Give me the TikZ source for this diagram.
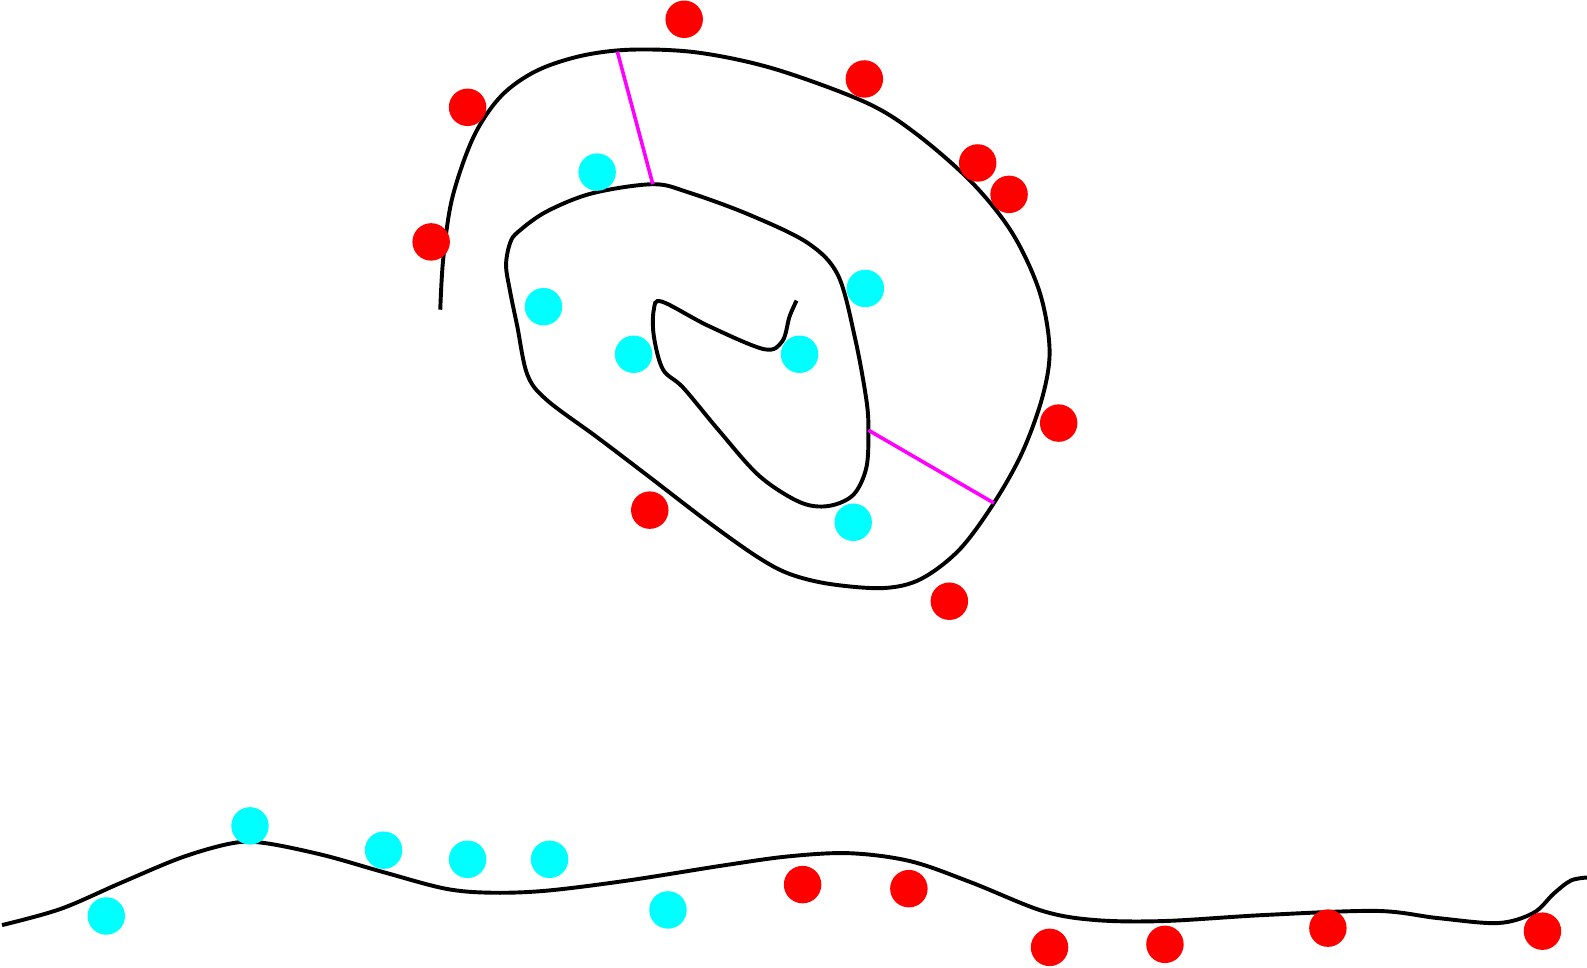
\documentclass[tikz,border=0pt]{standalone}
\usepackage{tikz}
\usetikzlibrary{calc}

\definecolor{ptred}{RGB}{255,0,0}
\definecolor{ptcyan}{RGB}{0,255,255}
\definecolor{gapcol}{RGB}{255,0,255}

\begin{document}
\begin{tikzpicture}[x=0.01cm, y=-0.01cm]
\tikzstyle{pos_pt}=[circle, fill=ptred, inner sep=0pt, minimum size=0.37cm]
\tikzstyle{neg_pt}=[circle, fill=ptcyan, inner sep=0pt, minimum size=0.37cm]
\tikzstyle{border}=[line width=1.1pt, black]
\tikzstyle{gap}=[line width=1pt, gapcol]

\useasboundingbox (0,0) rectangle (1568,956);

% spiral
\draw[border] plot[smooth, tension=0.55] coordinates {
	(435,306) (438,255) (447,195) (468,135) (495,95) (530,70) (575,55) (625,49)
	(690,52) (765,68) (855,101) (905,132) (960,180) (1000,230) (1027,288)
	(1037,345) (1030,392) (1010,447) (982,497) (948,543) (910,572) (873,581)
	(820,577) (780,567) (748,550) (700,516) (640,470) (590,432) (540,395)
	(521,370) (511,322) (504,288) (500,262) (504,240) (512,229) (540,209)
	(585,191) (645,182) (680,190) (740,212) (798,240) (828,272) (845,335)
	(856,395) (858,425) (856,462) (843,489) (818,500) (790,496) (750,470)
	(710,425) (675,383) (655,365) (646,332) (646,306) (654,298)
	(700,322) (755,345) (773,337) (780,313) (787,297)};
\coordinate (G1a) at (610,51);
\coordinate (G1b) at (645,182);
\coordinate (G2a) at (858,425);
\coordinate (G2b) at (982,497);
\draw[gap] (G1a) -- (G1b);
\draw[gap] (G2a) -- (G2b);

% lower curve
\draw[border] plot[smooth, tension=0.55] coordinates {
	(2,914) (60,898) (120,872) (180,847) (230,833) (262,833) (320,845)
	(380,862) (440,878) (485,882) (540,880) (620,870) (715,855) (780,846)
	(840,843) (900,851) (960,872) (1030,900) (1082,909) (1150,910)
	(1250,904) (1360,900) (1420,907) (1480,912) (1515,902) (1535,883)
	(1552,870) (1568,867)};

% points
\foreach \x/\y [count=\i] in {676/19, 854/78, 462/106, 966/161, 997/192,
	426/239, 1046/418, 642/504, 938/594, 793/874, 898/878, 1037/936,
	1151/933, 1312/917, 1524/920}
	\node[pos_pt] (r\i) at (\x,\y) {};
\foreach \x/\y [count=\i] in {590/170, 537/303, 626/350, 790/350, 855/285,
	843/516, 247/816, 105/905, 379/840, 462/849, 543/849, 660/899}
	\node[neg_pt] (c\i) at (\x,\y) {};

\end{tikzpicture}
\end{document}
